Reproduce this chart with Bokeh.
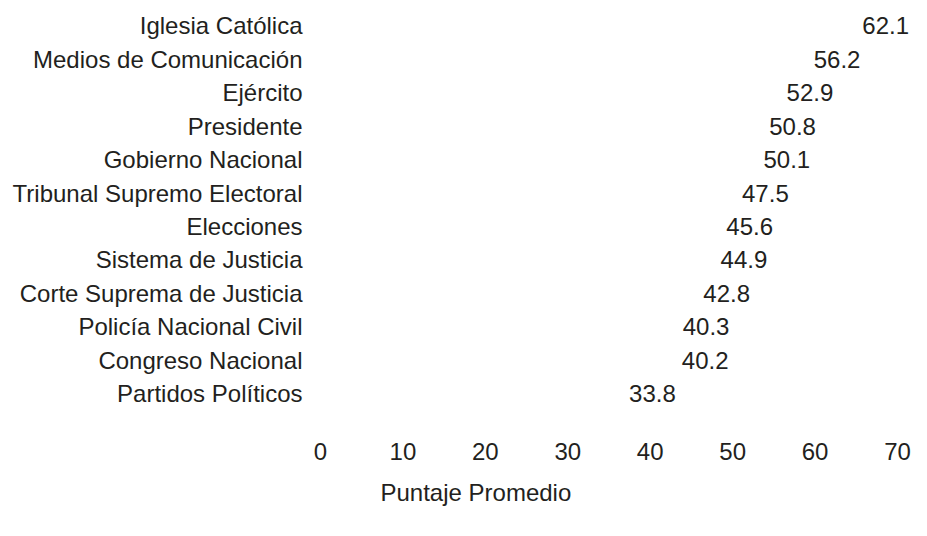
from bokeh.plotting import figure
from bokeh.models import Range1d, FixedTicker, ColumnDataSource, Title
from bokeh.core.properties import value
from bokeh.embed import file_html
from bokeh.resources import INLINE

categories = [
    "Iglesia Católica",
    "Medios de Comunicación",
    "Ejército",
    "Presidente",
    "Gobierno Nacional",
    "Tribunal Supremo Electoral",
    "Elecciones",
    "Sistema de Justicia",
    "Corte Suprema de Justicia",
    "Policía Nacional Civil",
    "Congreso Nacional",
    "Partidos Políticos",
]
scores = [62.1, 56.2, 52.9, 50.8, 50.1, 47.5, 45.6, 44.9, 42.8, 40.3, 40.2, 33.8]
x_ticks = [0, 10, 20, 30, 40, 50, 60, 70]
x_title = "Puntaje Promedio"

FONT = "Liberation Sans"
COLOR = "#231f20"

pos = list(range(len(categories)))
src = ColumnDataSource(dict(
    y=pos,
    v=scores,
    lab=[f"{s:.1f}" for s in scores],
))

p = figure(
    width=911, height=520,
    x_range=Range1d(0, 71.7),
    y_range=Range1d(start=12.313, end=-0.761),
    output_backend="svg", toolbar_location=None,
    min_border_top=0, min_border_left=320, min_border_right=0, min_border_bottom=82,
)
p.outline_line_color = None
p.grid.visible = False
p.background_fill_color = "white"

p.hbar(y="y", right="v", left=0, height=0.6, source=src,
       fill_color="white", line_color=None)
p.text(x="v", y="y", text="lab", source=src, x_offset=30,
       text_align="left", text_baseline="middle",
       text_font=value(FONT), text_font_size="24px", text_color=COLOR)

# y axis
p.yaxis.ticker = FixedTicker(ticks=pos)
p.yaxis.major_label_overrides = {i: c for i, c in zip(pos, categories)}
p.yaxis.axis_line_color = None
p.yaxis.major_tick_line_color = None
p.yaxis.minor_tick_line_color = None
p.yaxis.major_tick_out = 0
p.yaxis.minor_tick_out = 0
p.yaxis.major_label_standoff = 18
p.yaxis.major_label_text_font = FONT
p.yaxis.major_label_text_font_size = "24px"
p.yaxis.major_label_text_color = COLOR

# x axis
p.xaxis.ticker = FixedTicker(ticks=x_ticks)
p.xaxis.axis_line_color = None
p.xaxis.major_tick_line_color = None
p.xaxis.minor_tick_line_color = None
p.xaxis.major_tick_out = 0
p.xaxis.minor_tick_out = 0
p.xaxis.major_label_standoff = 5
p.xaxis.major_label_text_font = FONT
p.xaxis.major_label_text_font_size = "24px"
p.xaxis.major_label_text_color = COLOR

t = Title(text=x_title, align="left", offset=60, standoff=29,
          text_font=FONT, text_font_size="24px", text_font_style="normal",
          text_color=COLOR)
p.add_layout(t, "below")

open("out.html", "w").write(file_html(p, INLINE))
